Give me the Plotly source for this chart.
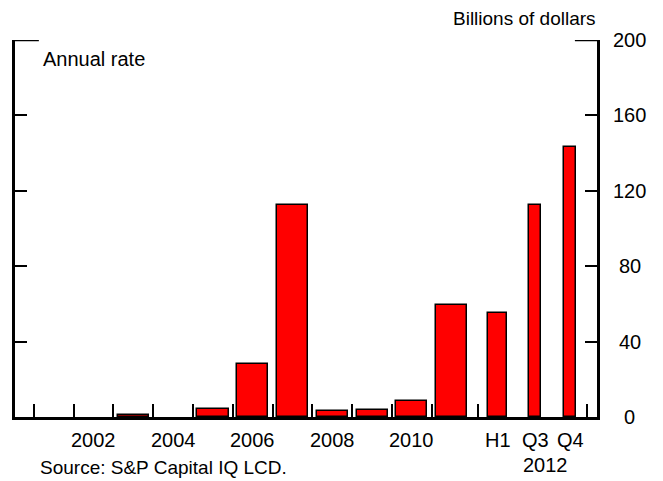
import plotly.graph_objects as go

# annual values (billions of dollars, annual rate)
years = [2001, 2002, 2003, 2004, 2005, 2006, 2007, 2008, 2009, 2010, 2011]
annual_vals = [0, 0, 1.0, 0, 4.5, 27.9, 112.7, 3.0, 3.7, 8.5, 59.2]

# 2012 sub-periods
periods_2012 = ["H1", "Q3", "Q4"]
vals_2012 = [55.3, 112.6, 143.1]

year_labels = ["2002", "2004", "2006", "2008", "2010"]
y_ticks = [0, 40, 80, 120, 160, 200]

# layout positions on the numeric x axis (1 unit = one year slot)
pos_2012 = [2012.16, 2013.1, 2013.975]
width_2012 = [0.48, 0.31, 0.31]
x_ticks = [y + 0.5 for y in range(2000, 2011)] + [2011.65, 2014.4]
x_range = [2000.025, 2014.65]

font = dict(family="Liberation Sans, Arial, sans-serif", size=20, color="black")
src_font = dict(font, size=19)

# no outline on empty years
annual_lw = [1.5 if v > 0 else 0 for v in annual_vals]

fig = go.Figure()
fig.add_trace(go.Bar(x=years, y=annual_vals, width=0.78,
                     marker=dict(color="#ff0000",
                                 line=dict(color="black", width=annual_lw))))
fig.add_trace(go.Bar(x=pos_2012, y=vals_2012, width=width_2012,
                     marker=dict(color="#ff0000",
                                 line=dict(color="black", width=1.5))))

ann = []
for lab in year_labels:
    ann.append(dict(x=int(lab), y=-0.061, xref="x", yref="paper", text=lab,
                    showarrow=False, xanchor="center", yanchor="middle", font=font))
for p, lab in zip(pos_2012, periods_2012):
    ann.append(dict(x=p, y=-0.061, xref="x", yref="paper", text=lab,
                    showarrow=False, xanchor="center", yanchor="middle", font=font))
ann.append(dict(x=2013.35, y=-0.127, xref="x", yref="paper", text="2012",
                showarrow=False, xanchor="center", yanchor="middle", font=font))
for v in y_ticks:
    ann.append(dict(x=1.0564, y=v, xref="paper", yref="y", text=str(v),
                    showarrow=False, xanchor="center", yanchor="middle", font=font))
ann.append(dict(x=1.0, y=1.058, xref="paper", yref="paper", text="Billions of dollars",
                showarrow=False, xanchor="right", yanchor="middle", font=src_font,
                borderpad=0))
ann.append(dict(x=0.044, y=0.95, xref="paper", yref="paper", text="Annual rate",
                showarrow=False, xanchor="left", yanchor="middle", font=font))
ann.append(dict(x=0.039, y=-0.135, xref="paper", yref="paper",
                text="Source: S&P Capital IQ LCD.",
                showarrow=False, xanchor="left", yanchor="middle", font=src_font))

shapes = [
    dict(type="line", xref="paper", yref="y", x0=0, x1=0.041, y0=200, y1=200,
         line=dict(color="black", width=2.5)),
    dict(type="line", xref="paper", yref="y", x0=1 - 0.038, x1=1, y0=200, y1=200,
         line=dict(color="black", width=2.5)),
]

# page body has an 8px margin, so the figure is 8px smaller and shifted
fig.update_layout(
    width=655, height=473,
    margin=dict(l=4, r=66, t=32, b=64),
    paper_bgcolor="white", plot_bgcolor="white",
    showlegend=False, bargap=0,
    annotations=ann, shapes=shapes,
    xaxis=dict(range=x_range, showgrid=False, zeroline=False,
               showline=True, linecolor="black", linewidth=3,
               ticks="inside", tickvals=x_ticks, ticklen=13, tickwidth=2,
               tickcolor="black", showticklabels=False),
    yaxis=dict(range=[0, 200], side="right", showgrid=False, zeroline=False,
               showline=True, mirror="ticks", linecolor="black", linewidth=2.5,
               ticks="inside", tickvals=y_ticks, ticklen=12, tickwidth=2,
               tickcolor="black", showticklabels=False),
)

fig.write_html("out.html")
